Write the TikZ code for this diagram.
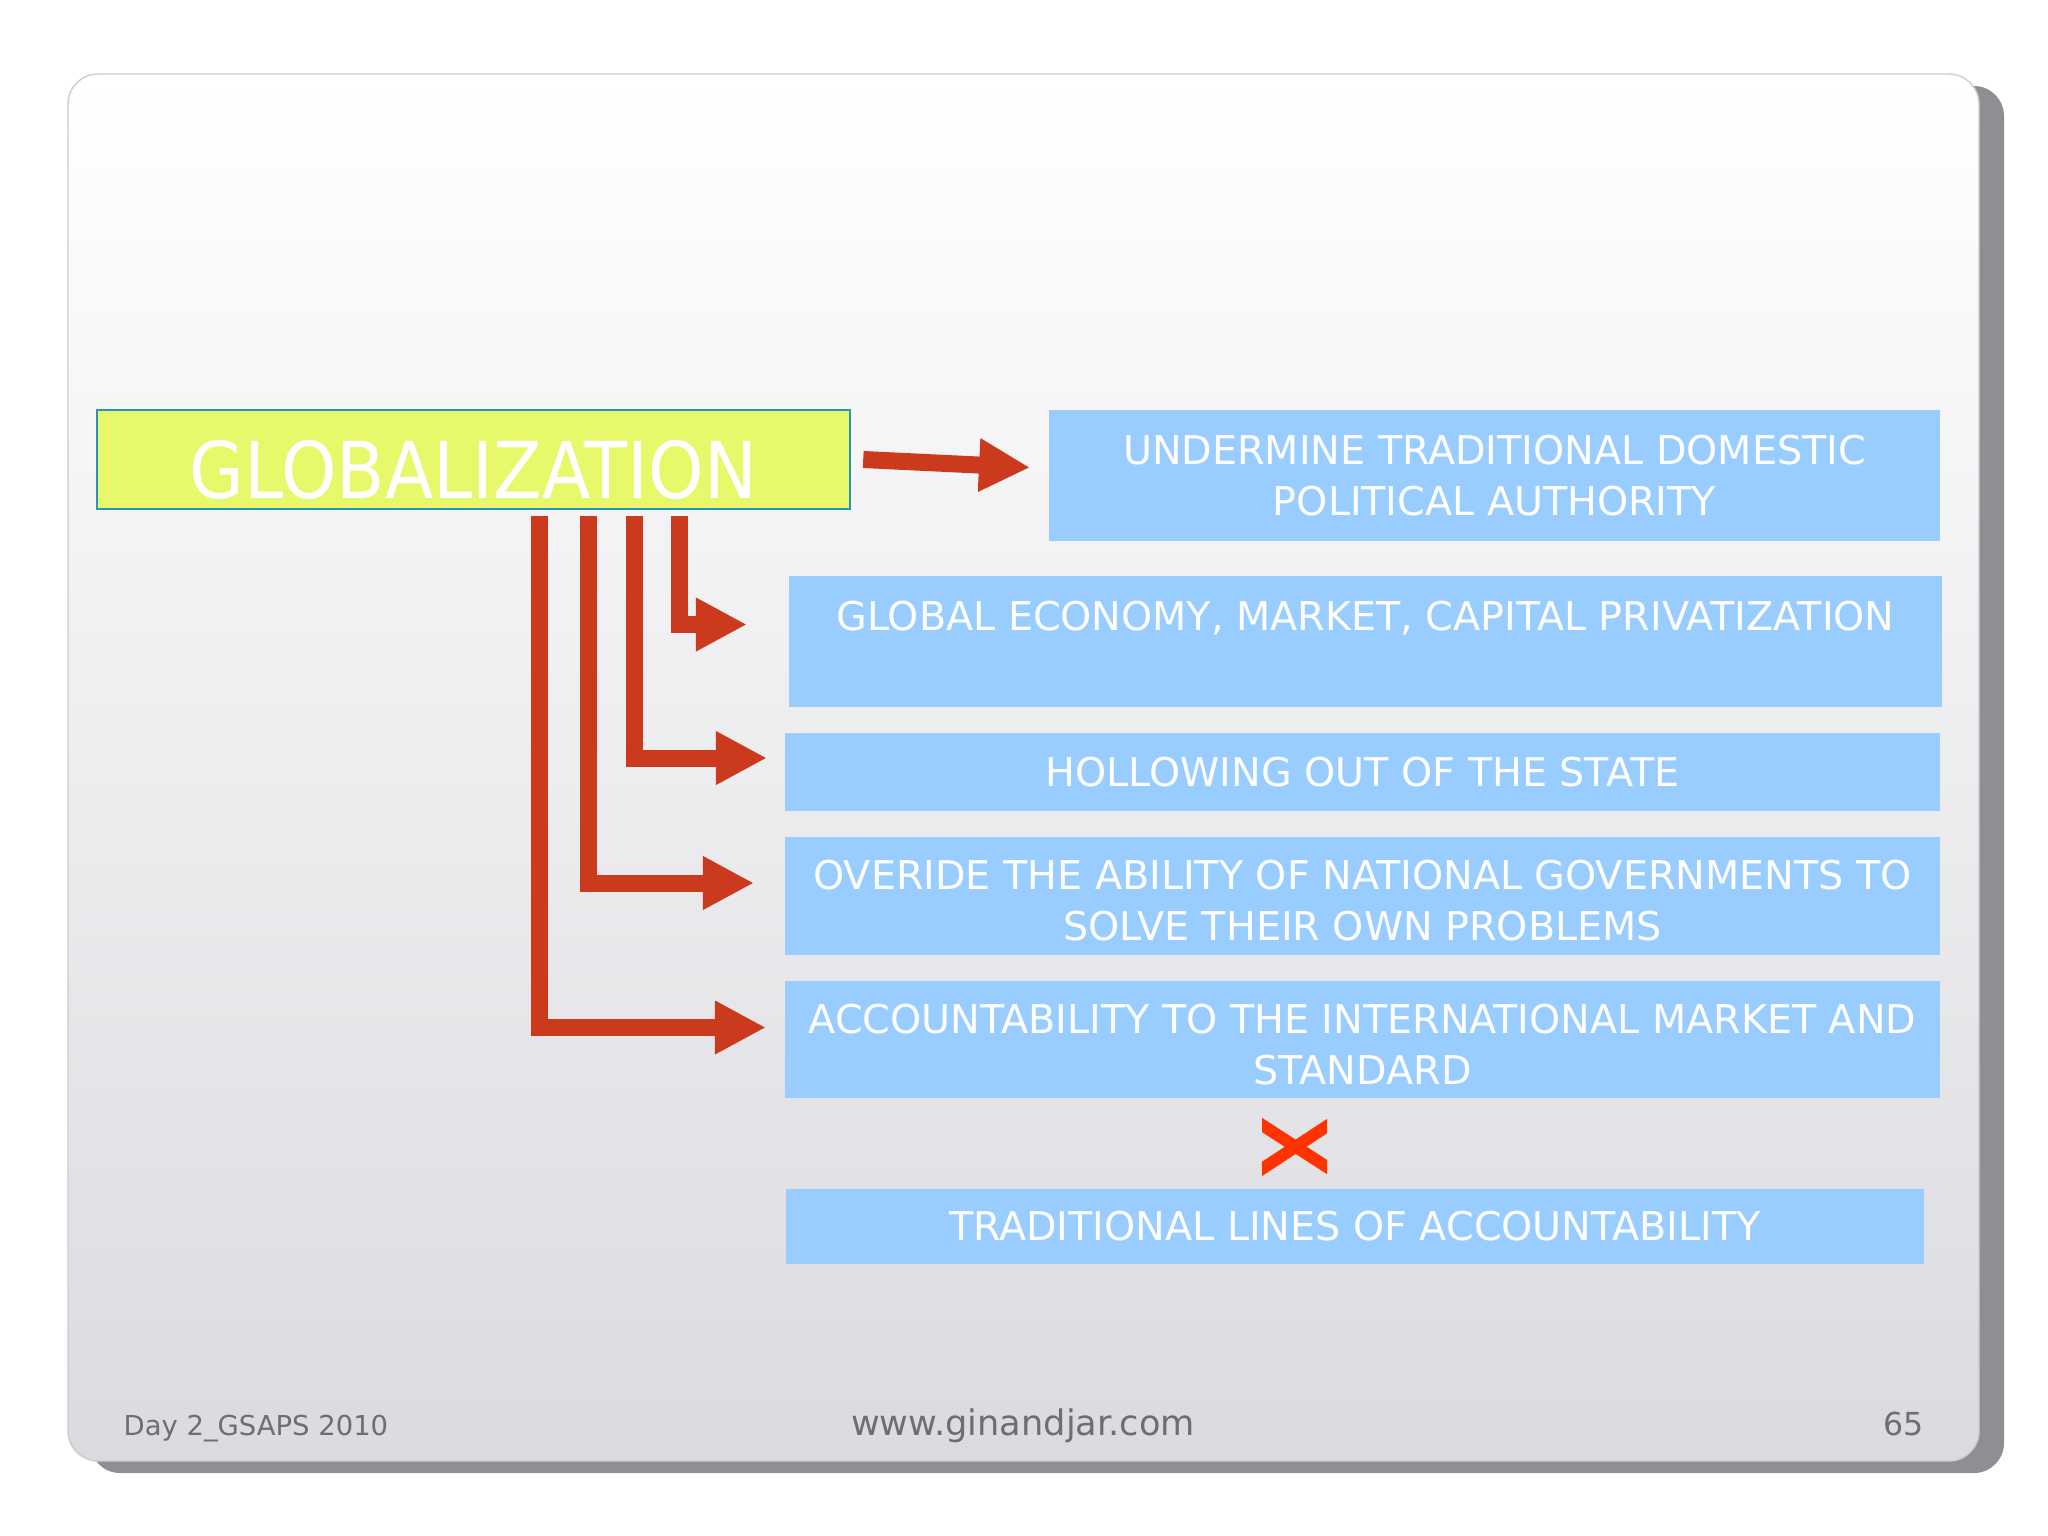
\documentclass[tikz,border=0pt]{standalone}
\usepackage{fontspec}
\setmainfont{DejaVu Sans}
\newfontfamily\titlefont[FakeStretch=0.9]{DejaVu Sans}
\usetikzlibrary{calc,arrows.meta}
\definecolor{boxblue}{RGB}{153,204,255}
\definecolor{globyellow}{RGB}{232,248,107}
\definecolor{globline}{RGB}{38,150,180}
\definecolor{arrowred}{RGB}{204,58,29}
\definecolor{crossred}{RGB}{255,51,0}
\definecolor{cardgrey}{RGB}{219,218,223}
\definecolor{cardline}{RGB}{205,205,208}
\definecolor{shadowgrey}{RGB}{143,142,146}
\definecolor{footgrey}{RGB}{110,110,112}

\begin{document}
\begin{tikzpicture}[x=0.01cm,y=-0.01cm,
    every node/.style={inner sep=0pt},
    bluebox/.style={fill=boxblue,text=white,align=center,font=\fontsize{11.27}{14.5}\selectfont},
    footer/.style={text=footgrey},
    redarrow/.style={draw=arrowred,line width=0.17cm,-{Triangle[length=0.51cm,width=0.5cm]}}]
  \useasboundingbox (0,0) rectangle (2048,1536);
  %\draw[very thin,lightgray,step=100] (0,0) grid (2048,1536);
  \fill[shadowgrey,rounded corners=0.3cm] (90,86) rectangle (2004,1473);
  \draw[cardline,top color=white,bottom color=cardgrey,rounded corners=0.3cm] (68,74) rectangle (1979,1461);

  \node[draw=globline,line width=0.02cm,fill=globyellow,minimum width=7.53cm,minimum height=0.99cm,
    text=white,font=\titlefont\fontsize{22.3}{26}\selectfont,text height=0.78cm,text depth=0cm]
    (glob) at (473.5,459.5) {GLOBALIZATION};

  \node[bluebox,minimum width=8.91cm,minimum height=1.31cm] (undermine) at (1494.5,475.5)
    {UNDERMINE TRADITIONAL DOMESTIC\\POLITICAL AUTHORITY};
  \node[bluebox,minimum width=11.53cm,minimum height=1.31cm] (economy) at (1365.5,641.5)
    {GLOBAL ECONOMY, MARKET, CAPITAL PRIVATIZATION\\\mbox{}};
  \node[bluebox,minimum width=11.55cm,minimum height=0.78cm] (hollow) at (1362.5,772)
    {HOLLOWING OUT OF THE STATE};
  \node[bluebox,minimum width=11.55cm,minimum height=1.18cm] (override) at (1362.5,896)
    {\rule{0pt}{0.39cm}OVERIDE THE ABILITY OF NATIONAL GOVERNMENTS TO\\SOLVE THEIR OWN PROBLEMS};
  \node[bluebox,minimum width=11.55cm,minimum height=1.17cm] (account) at (1362.5,1039.5)
    {\rule{0pt}{0.39cm}ACCOUNTABILITY TO THE INTERNATIONAL MARKET AND\\STANDARD};
  \node[bluebox,minimum width=11.38cm,minimum height=0.75cm] (trad) at (1355,1226.5)
    {TRADITIONAL LINES OF ACCOUNTABILITY};

  \draw[redarrow] ($(glob.east)+(12,0)$) -- ($(undermine.west)+(-18,-8)$);
  \draw[redarrow] ($(glob.south)+(205.5,6)$) |- ($(economy.west)+(-41,-17)$);
  \draw[redarrow] ($(glob.south)+(160.5,6)$) |- ($(hollow.west)+(-17,-14)$);
  \draw[redarrow] ($(glob.south)+(114.5,6)$) |- ($(override.west)+(-30,-13)$);
  \draw[redarrow] ($(glob.south)+(65.5,6)$) |- ($(account.west)+(-18,-12)$);

  % the cross between the two accountability boxes
  \begin{scope}
    \clip (1262,1100) rectangle (1327,1190);
    \draw[crossred,line width=0.12cm] (1252,1118.5) -- (1337,1173.5) (1252,1175.5) -- (1337,1119.5);
  \end{scope}

  \node[footer,anchor=base west,font=\fontsize{7.8}{9}\selectfont] (day) at (123,1435) {Day 2\_GSAPS 2010};
  \node[footer,anchor=base,font=\fontsize{10}{12}\selectfont] (site) at (1023,1435) {www.ginandjar.com};
  \node[footer,anchor=base east,font=\fontsize{9}{11}\selectfont] (page) at (1924,1435) {65};
\end{tikzpicture}
\end{document}
